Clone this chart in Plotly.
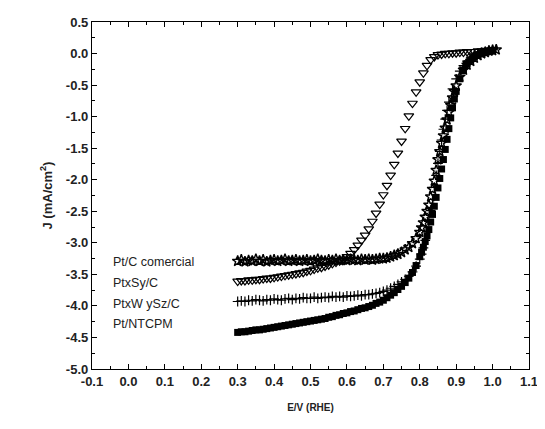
import plotly.graph_objects as go

names = ["Pt/C comercial", "PtxSy/C", "PtxW ySz/C", "Pt/NTCPM"]

# Pt/C comercial (stars)
e_ptc = [0.30,0.31,0.32,0.33,0.34,0.35,0.36,0.37,0.38,0.39,0.40,0.41,0.42,0.43,0.44,0.45,0.46,0.47,0.48,0.49,
         0.50,0.51,0.52,0.53,0.54,0.55,0.56,0.57,0.58,0.59,0.60,0.61,0.62,0.63,0.64,0.65,0.66,0.67,0.68,0.69,
         0.70,0.71,0.72,0.73,0.74,0.75,0.76,0.77,0.78,0.79,0.80,0.805,0.81,0.815,0.82,0.825,0.83,0.835,0.84,0.845,
         0.85,0.855,0.86,0.865,0.87,0.875,0.88,0.885,0.89,0.895,0.90,0.91,0.92,0.93,0.94,0.95,0.96,0.97,0.98,0.99,1.00,1.01]
j_ptc = [-3.29,-3.27,-3.30,-3.28,-3.29,-3.26,-3.29,-3.27,-3.30,-3.28,-3.27,-3.29,-3.28,-3.26,-3.29,-3.28,-3.27,-3.29,-3.28,-3.27,
         -3.29,-3.28,-3.26,-3.28,-3.29,-3.27,-3.28,-3.26,-3.28,-3.27,-3.28,-3.26,-3.27,-3.28,-3.26,-3.27,-3.26,-3.27,-3.26,-3.25,
         -3.25,-3.24,-3.22,-3.20,-3.18,-3.15,-3.11,-3.07,-3.01,-2.93,-2.83,-2.76,-2.68,-2.59,-2.50,-2.40,-2.27,-2.15,-2.02,-1.85,
         -1.68,-1.55,-1.42,-1.30,-1.18,-1.05,-0.93,-0.82,-0.70,-0.60,-0.51,-0.37,-0.26,-0.18,-0.12,-0.07,-0.03,0.00,0.02,0.04,0.05,0.06]

# PtxSy/C (open down triangles)
e_sy = [0.30,0.31,0.32,0.33,0.34,0.35,0.36,0.37,0.38,0.39,0.40,0.41,0.42,0.43,0.44,0.45,0.46,0.47,0.48,0.49,
        0.50,0.51,0.52,0.53,0.54,0.55,0.56,0.57,0.58,0.59,0.60,0.61,0.62,0.63,0.64,0.65,0.66,0.67,0.68,0.69,
        0.70,0.71,0.72,0.73,0.74,0.75,0.76,0.77,0.78,0.79,0.80,0.81,0.82,0.83,0.84,0.85,0.86,0.87,0.88,0.89,
        0.90,0.91,0.92,0.93,0.94,0.95,0.96,0.97,0.98,0.99,1.00]
j_sy = [-3.61,-3.60,-3.60,-3.59,-3.59,-3.58,-3.58,-3.57,-3.56,-3.56,-3.55,-3.54,-3.53,-3.52,-3.51,-3.50,-3.49,-3.48,-3.47,-3.45,
        -3.44,-3.42,-3.40,-3.39,-3.37,-3.35,-3.33,-3.31,-3.29,-3.26,-3.22,-3.17,-3.11,-3.04,-2.96,-2.88,-2.78,-2.66,-2.53,-2.39,
        -2.24,-2.09,-1.93,-1.76,-1.58,-1.39,-1.19,-0.99,-0.79,-0.61,-0.45,-0.31,-0.19,-0.10,-0.05,-0.02,-0.01,0.00,0.00,0.01,
        0.01,0.02,0.02,0.03,0.03,0.03,0.04,0.04,0.05,0.05,0.06]

# PtxWySz/C (crosses)
e_wy = [0.30,0.31,0.32,0.33,0.34,0.35,0.36,0.37,0.38,0.39,0.40,0.41,0.42,0.43,0.44,0.45,0.46,0.47,0.48,0.49,
        0.50,0.51,0.52,0.53,0.54,0.55,0.56,0.57,0.58,0.59,0.60,0.61,0.62,0.63,0.64,0.65,0.66,0.67,0.68,0.69,
        0.70,0.71,0.72,0.73,0.74,0.75,0.76,0.77,0.78,0.79,0.80,0.805,0.81,0.815,0.82,0.825,0.83,0.835,0.84,0.845,
        0.85,0.855,0.86,0.865,0.87,0.875,0.88,0.89,0.90,0.91,0.92,0.93,0.94,0.95,0.96,0.97,0.98,0.99,1.00]
j_wy = [-3.93,-3.92,-3.93,-3.91,-3.92,-3.90,-3.91,-3.92,-3.90,-3.91,-3.89,-3.90,-3.91,-3.89,-3.88,-3.90,-3.88,-3.89,-3.87,-3.88,
        -3.88,-3.86,-3.88,-3.87,-3.86,-3.87,-3.85,-3.86,-3.85,-3.86,-3.84,-3.85,-3.84,-3.83,-3.84,-3.82,-3.82,-3.81,-3.80,-3.79,
        -3.77,-3.75,-3.72,-3.69,-3.66,-3.62,-3.58,-3.53,-3.46,-3.37,-3.26,-3.18,-3.08,-2.96,-2.82,-2.66,-2.49,-2.31,-2.12,-1.93,
        -1.74,-1.55,-1.37,-1.20,-1.04,-0.90,-0.77,-0.56,-0.40,-0.28,-0.19,-0.12,-0.07,-0.03,0.00,0.02,0.03,0.05,0.06]

# Pt/NTCPM (filled squares)
e_nt = [0.30,0.31,0.32,0.33,0.34,0.35,0.36,0.37,0.38,0.39,0.40,0.41,0.42,0.43,0.44,0.45,0.46,0.47,0.48,0.49,
        0.50,0.51,0.52,0.53,0.54,0.55,0.56,0.57,0.58,0.59,0.60,0.61,0.62,0.63,0.64,0.65,0.66,0.67,0.68,0.69,
        0.70,0.71,0.72,0.73,0.74,0.75,0.76,0.77,0.78,0.79,0.80,0.805,0.81,0.815,0.82,0.825,0.83,0.835,0.84,0.845,
        0.85,0.855,0.86,0.865,0.87,0.875,0.88,0.885,0.89,0.895,0.90,0.91,0.92,0.93,0.94,0.95,0.96,0.97,0.98,0.99,1.00]
j_nt = [-4.42,-4.41,-4.41,-4.40,-4.39,-4.38,-4.38,-4.37,-4.36,-4.35,-4.34,-4.33,-4.32,-4.31,-4.30,-4.29,-4.28,-4.27,-4.26,-4.25,
        -4.24,-4.23,-4.22,-4.21,-4.20,-4.18,-4.17,-4.15,-4.14,-4.12,-4.11,-4.09,-4.08,-4.06,-4.04,-4.03,-4.01,-3.99,-3.96,-3.94,
        -3.91,-3.87,-3.83,-3.79,-3.74,-3.69,-3.63,-3.56,-3.47,-3.36,-3.22,-3.15,-3.07,-2.98,-2.89,-2.79,-2.67,-2.55,-2.42,-2.28,
        -2.13,-1.98,-1.83,-1.68,-1.52,-1.36,-1.19,-1.02,-0.86,-0.72,-0.60,-0.40,-0.26,-0.16,-0.10,-0.05,-0.02,0.01,0.03,0.04,0.05]

label_y = [-3.30, -3.63, -3.97, -4.28]

x_ticks = [-0.1,0.0,0.1,0.2,0.3,0.4,0.5,0.6,0.7,0.8,0.9,1.0,1.1]
y_ticks = [0.5,0.0,-0.5,-1.0,-1.5,-2.0,-2.5,-3.0,-3.5,-4.0,-4.5,-5.0]

FONT = "Liberation Sans, Arial, sans-serif"

fig = go.Figure()
series = [
    (e_ptc, j_ptc, dict(symbol="star-open", size=8, color="black", line=dict(color="black", width=1.4))),
    (e_sy, j_sy, dict(symbol="triangle-down-open", size=8.5, color="black", line=dict(color="black", width=1.2))),
    (e_wy, j_wy, dict(symbol="cross-thin-open", size=7, color="black", line=dict(color="black", width=1.2))),
    (e_nt, j_nt, dict(symbol="square", size=7, color="black", line=dict(color="black", width=0))),
]
for (xs, ys, mk), nm in zip(series, names):
    fig.add_trace(go.Scatter(x=xs, y=ys, mode="markers", name=nm, marker=mk, showlegend=False))

for nm, ly in zip(names, label_y):
    fig.add_annotation(x=-0.047, y=ly, xref="x", yref="y", text=nm, showarrow=False,
                       xanchor="left", yanchor="middle",
                       font=dict(family=FONT, size=12.5, color="#222"))

axis_common = dict(
    showline=True, linecolor="black", linewidth=1.3, mirror="allticks",
    ticks="inside", ticklen=5, tickwidth=1, tickcolor="black",
    showgrid=False, zeroline=False,
    tickfont=dict(family=FONT, size=13, color="#222", weight="bold"),
)

fig.update_xaxes(range=[-0.1, 1.1], tickvals=x_ticks, ticktext=[f"{v:.1f}" for v in x_ticks],
                 minor=dict(ticks="inside", ticklen=3, dtick=0.05, tickcolor="black", showgrid=False),
                 title=dict(text="E/V (RHE)", font=dict(family=FONT, size=10, color="#222", weight="bold"), standoff=16),
                 **axis_common)
fig.update_yaxes(range=[-5.0, 0.5], tickvals=y_ticks, ticktext=[f"{v:.1f}" for v in y_ticks],
                 minor=dict(ticks="inside", ticklen=3, dtick=0.25, tickcolor="black", showgrid=False),
                 title=dict(text="J (mA/cm<sup style='font-size:15px'>2</sup>)",
                            font=dict(family=FONT, size=13, color="#222", weight="bold"), standoff=10),
                 **axis_common)

# page body has an 8px margin, so the figure is offset on the page
fig.update_layout(
    width=537, height=421,
    margin=dict(l=84, r=14, t=7, b=60),
    paper_bgcolor="white", plot_bgcolor="white",
    font=dict(family=FONT, color="#222"),
)

fig.write_html("out.html")
